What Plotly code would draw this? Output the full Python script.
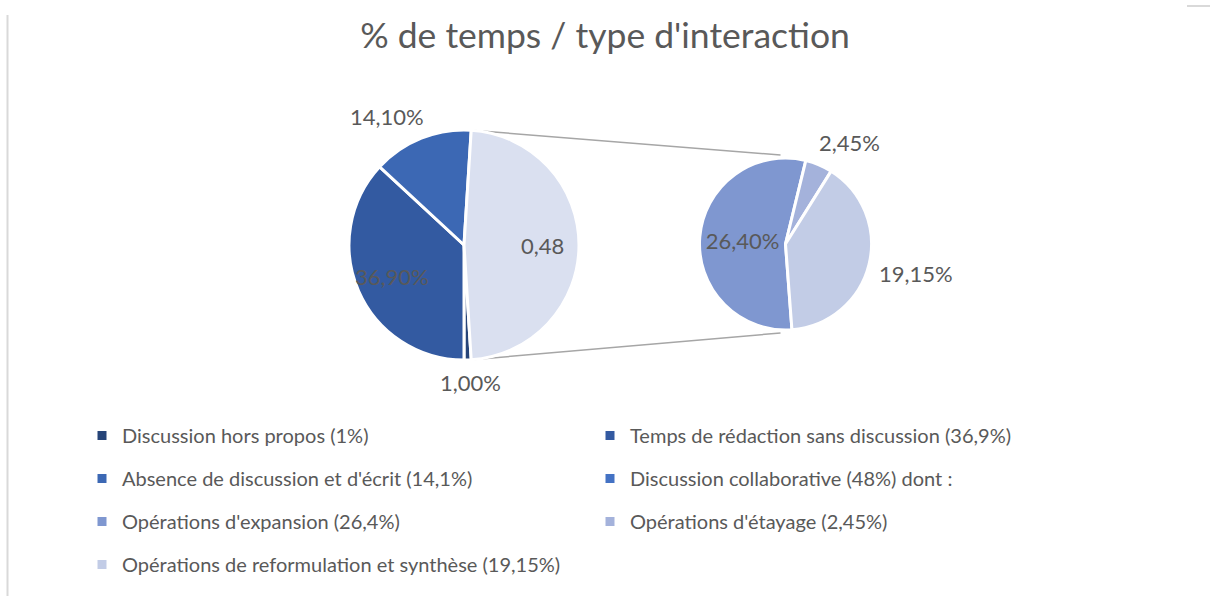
import math
import plotly.graph_objects as go

# ---------------- data ----------------
main_labels = ["Discussion hors propos (1%)", "Temps de rédaction sans discussion (36,9%)",
               "Absence de discussion et d'écrit (14,1%)", "Discussion collaborative (48%) dont :"]
main_values = [1.0, 36.9, 14.1, 48.0]
main_colors = ["#264478", "#335AA1", "#3C68B4", "#DAE0F0"]
collab_legend_color = "#4472C4"

sub_labels = ["Opérations d'expansion (26,4%)", "Opérations d'étayage (2,45%)",
              "Opérations de reformulation et synthèse (19,15%)"]
sub_values = [26.4, 2.45, 19.15]
sub_colors = ["#7F97D0", "#A4B2DB", "#C2CCE6"]

title_text = "% de temps / type d'interaction"

# ---------------- layout constants ----------------
W, H = 1210, 596
FONT = "Lato"
GREY = "#595959"
LBL_SIZE = 22

c1 = (464.0, 245.0); r1 = 115.0
c2 = (785.5, 244.0); r2 = 86.0


def fmt_pct(v):
    return f"{v:.2f}%".replace(".", ",")


def fmt_frac(v):
    return f"{v/100:.2f}".replace(".", ",")


def dom(c, r):
    return dict(x=[(c[0] - r) / W, (c[0] + r) / W], y=[1 - (c[1] + r) / H, 1 - (c[1] - r) / H])


def px_to_paper(x, y):
    return x / W, 1 - y / H


total_main = sum(main_values)
other = main_values[3]
# "other" slice is centred on 3 o'clock; first slice starts right after it
rot1 = 90 + other / total_main * 180
rot2 = 180 - 4.3  # start angle of the expansion slice in the second pie


def bisectors(values, rot):
    tot = sum(values)
    out, acc = [], 0.0
    for v in values:
        out.append((rot + (acc + v / 2) / tot * 360) % 360)
        acc += v
    return out


bis1 = bisectors(main_values, rot1)
bis2 = bisectors(sub_values, rot2)

main_text = [fmt_pct(v) for v in main_values[:3]] + [fmt_frac(other)]
main_mode = ["outside", "center", "outside", "center"]
sub_text = [fmt_pct(v) for v in sub_values]
sub_mode = ["inside", "outside", "outside"]

fig = go.Figure()

fig.add_trace(go.Pie(
    values=main_values, labels=main_labels, text=main_text, textinfo="text",
    textposition=["inside" if m == "inside" else "none" for m in main_mode],
    sort=False, direction="clockwise", rotation=rot1,
    marker=dict(colors=main_colors, line=dict(color="white", width=3)),
    insidetextfont=dict(family=FONT, size=LBL_SIZE, color=GREY),
    insidetextorientation="horizontal",
    domain=dom(c1, r1), showlegend=False, hoverinfo="label+value",
))

fig.add_trace(go.Pie(
    values=sub_values, labels=sub_labels, text=sub_text, textinfo="text",
    textposition=["inside" if m == "inside" else "none" for m in sub_mode],
    sort=False, direction="clockwise", rotation=rot2,
    marker=dict(colors=sub_colors, line=dict(color="white", width=3)),
    insidetextfont=dict(family=FONT, size=LBL_SIZE, color=GREY),
    insidetextorientation="horizontal",
    domain=dom(c2, r2), showlegend=False, hoverinfo="label+value",
))

# data labels placed as Excel does (outside labels pushed away from the pie edge)
annotations = []


def clip(v, lo, hi):
    return max(lo, min(hi, v))


def add_label(text, c, r, ang, mode):
    a = math.radians(ang)
    s, co = math.sin(a), math.cos(a)
    xs = ys = 0.0
    if mode == "center":
        R = 0.68 * r
    else:
        R = r + 12
        half_w = len(text) * LBL_SIZE * 0.27
        half_h = LBL_SIZE * 0.5
        xs = clip(s / 0.45, -1, 1) * half_w
        ys = clip(co / 0.45, -1, 1) * half_h
    px, py = px_to_paper(c[0] + R * s, c[1] - R * co)
    annotations.append(dict(text=text, x=px, y=py, xref="paper", yref="paper", xanchor="center",
                            yanchor="middle", xshift=xs, yshift=ys, showarrow=False, borderpad=0,
                            font=dict(family=FONT, size=LBL_SIZE, color=GREY)))


for t, ang, m in zip(main_text, bis1, main_mode):
    if m != "inside":
        add_label(t, c1, r1, ang, m)
for t, ang, m in zip(sub_text, bis2, sub_mode):
    if m != "inside":
        add_label(t, c2, r2, ang, m)

# legend entries (two columns, row-major order as in the reference)
legend_items = list(zip(main_labels, main_colors[:3] + [collab_legend_color])) + list(zip(sub_labels, sub_colors))
for i, (lab, col) in enumerate(legend_items):
    fig.add_trace(go.Scatter(
        x=[None], y=[None], mode="markers", name=lab,
        marker=dict(symbol="square", size=9, color=col),
        legend="legend" if i % 2 == 0 else "legend2",
        legendgroup=f"g{i}", showlegend=True, hoverinfo="skip",
    ))

# connector lines between pies
start_top_ang = math.radians((rot1 + sum(main_values[:3]) / total_main * 360) % 360)
start_bot_ang = math.radians(rot1 % 360)

p1 = (c1[0] + r1 * math.sin(start_top_ang), c1[1] - r1 * math.cos(start_top_ang))
p2 = (c1[0] + r1 * math.sin(start_bot_ang), c1[1] - r1 * math.cos(start_bot_ang))
q1 = (c2[0] - 5, c2[1] - r2 - 3)
q2 = (c2[0] - 5, c2[1] + r2 + 3)

shapes = []
for a, b in [(p1, q1), (p2, q2)]:
    ax, ay = px_to_paper(*a)
    bx, by = px_to_paper(*b)
    shapes.append(dict(type="line", xref="paper", yref="paper", x0=ax, y0=ay, x1=bx, y1=by,
                       line=dict(color="#A6A6A6", width=1.5), layer="below"))
# frame fragments seen in the screenshot
shapes.append(dict(type="line", xref="paper", yref="paper", x0=7.5 / W, x1=7.5 / W, y0=0, y1=1 - 15 / H,
                   line=dict(color="#D9D9D9", width=2)))
shapes.append(dict(type="line", xref="paper", yref="paper", x0=1187 / W, x1=1, y0=1 - 6 / H, y1=1 - 6 / H,
                   line=dict(color="#D9D9D9", width=2)))

leg_common = dict(orientation="v", font=dict(family=FONT, size=20, color=GREY),
                  bgcolor="rgba(0,0,0,0)", tracegroupgap=14, itemwidth=30,
                  xanchor="left", yanchor="top")

fig.update_layout(
    width=W, height=H,
    margin=dict(l=0, r=0, t=0, b=0),
    paper_bgcolor="white", plot_bgcolor="white",
    title=dict(text=title_text, x=0.5, xanchor="center", y=1 - 36 / H, yanchor="middle", yref="container",
               font=dict(family=FONT, size=35.5, color=GREY)),
    xaxis=dict(visible=False), yaxis=dict(visible=False),
    shapes=shapes, annotations=annotations,
    legend=dict(x=82 / W, y=1 - 416 / H, **leg_common),
    legend2=dict(x=590 / W, y=1 - 416 / H, **leg_common),
)

fig.write_html("out.html", config={"displayModeBar": False},
               post_script="document.body.style.margin='0px';")
